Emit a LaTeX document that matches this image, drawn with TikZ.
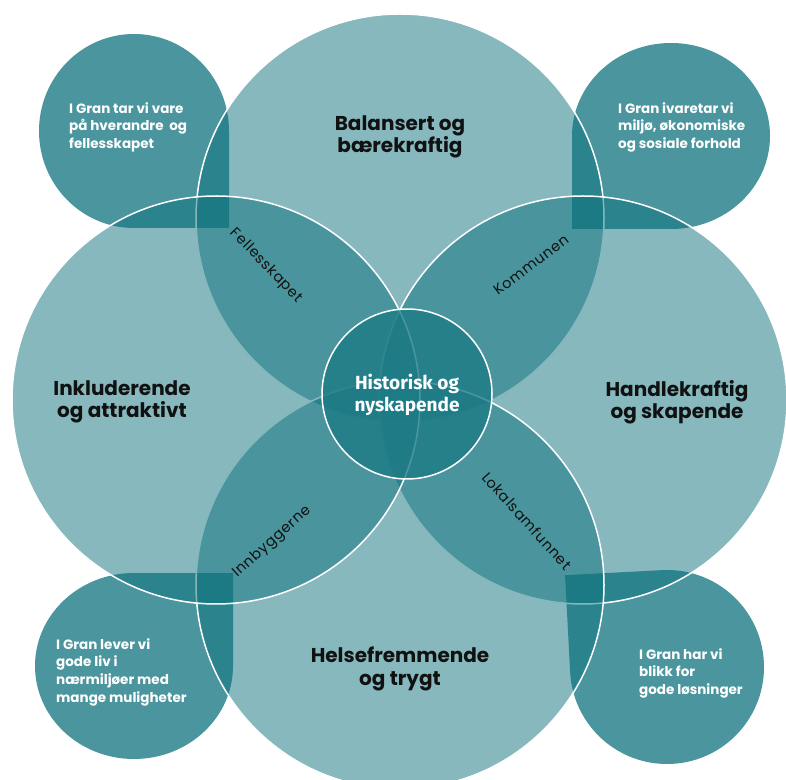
\documentclass[tikz,border=0pt]{standalone}
\usepackage{fontspec}
\setmainfont{Poppins}
\newfontfamily\centerfont{Fira Sans}
\definecolor{tealbase}{RGB}{13,113,125}
\definecolor{centerteal}{RGB}{29,123,134}
\definecolor{titlecol}{RGB}{17,17,17}
\begin{document}
\begin{tikzpicture}[x=1pt,y=1pt,
  bigcirc/.style={circle, draw=white, line width=1.5pt, fill=tealbase, fill opacity=0.5, inner sep=0pt, minimum size=408pt},
  midcirc/.style={circle, draw=white, line width=1.5pt, fill=centerteal, fill opacity=0.8, inner sep=0pt, minimum size=170pt},
  cornershape/.style={fill=tealbase, fill opacity=0.75},
  title/.style={font=\fontsize{20}{22.5}\selectfont\bfseries, text=titlecol, align=center, inner sep=0pt},
  centertext/.style={font=\centerfont\fontsize{19}{22}\selectfont\bfseries, text=white, align=center, inner sep=0pt},
  cornertext/.style={font=\fontsize{13.5}{17.8}\selectfont\bfseries, text=white, align=left, anchor=north west, inner sep=0pt},
  lens/.style={font=\fontsize{14.5}{17}\selectfont\addfontfeatures{LetterSpace=5}, text=titlecol, inner sep=0pt}]
\useasboundingbox (0,0) rectangle (786,779);
\clip (0,0) rectangle (786,779);
% corner shapes
\fill[cornershape] (229,648) -- (229,551) -- (134,551) arc[start angle=270, end angle=0, x radius=95, y radius=97] -- cycle;
\fill[cornershape] (572,643) -- (572,550) -- (671,550) arc[start angle=-90, end angle=180, x radius=99, y radius=93] -- cycle;
\fill[cornershape] (134,206) -- (233,206) -- (233,113) arc[start angle=0, end angle=-270, x radius=99, y radius=93] -- cycle;
\begin{scope}[rotate around={3:(667,112)}]
\fill[cornershape] (570,112) -- (570,209) -- (667,209) arc[start angle=90, end angle=-180, radius=97] -- cycle;
\end{scope}
% big circles
\node[bigcirc] (top) at (400,561) {};
\node[bigcirc] (right) at (583,379) {};
\node[bigcirc] (bottom) at (400,194) {};
\node[bigcirc] (left) at (216,379) {};
\node[midcirc] (mid) at (407,385) {};
% titles
\node[title] (ttop) at (400,642) {Balansert og\\bærekraftig};
\node[title] (tleft) at (122,377) {Inkluderende\\og attraktivt};
\node[title] (tright) at (677,377) {Handlekraftig\\og skapende};
\node[title] (tbottom) at (400,110) {Helsefremmende\\og trygt};
\node[centertext] (tmid) at (407,384) {Historisk og\\nyskapende};
% corner texts
\node[cornertext] (ctl) at (69,677) {I Gran tar vi vare\\på hverandre\ \ og\\fellesskapet};
\node[cornertext] (ctr) at (618,677) {I Gran ivaretar vi\\miljø, økonomiske\\og sosiale forhold};
\node[cornertext] (cbl) at (56,141) {I Gran lever vi\\gode liv i\\nærmiljøer med\\mange muligheter};
\node[cornertext] (cbr) at (639,131) {I Gran har vi\\blikk for\\gode løsninger};
% lens labels
\node[lens, rotate=-46] (lfel) at (266,513) {Fellesskapet};
\node[lens, rotate=37] (lkom) at (531,514) {Kommunen};
\node[lens, rotate=42] (linn) at (272,237) {Innbyggerne};
\node[lens, rotate=-48] (llok) at (527,258) {Lokalsamfunnet};
\end{tikzpicture}
\end{document}
